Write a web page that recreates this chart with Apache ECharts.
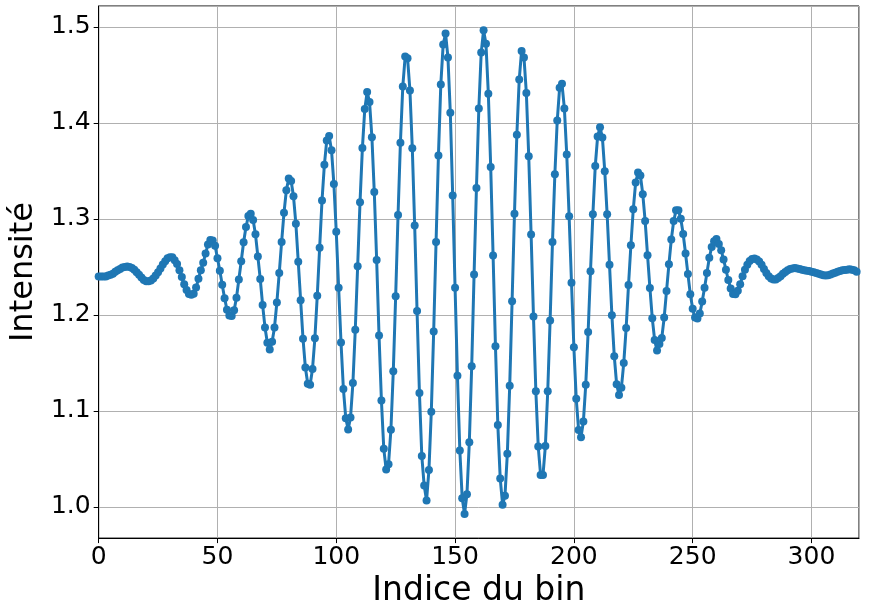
<!DOCTYPE html>
<html>
<head>
<meta charset="utf-8">
<script src="https://cdn.jsdelivr.net/npm/echarts@6/dist/echarts.min.js"></script>
<style>
html,body{margin:0;padding:0;background:#fff;}
#chart{width:874px;height:613px;}
</style>
</head>
<body>
<div id="chart"></div>
<script>
// Intensity per bin (bins 0..319)
const intensite = [
1.240,1.240,1.240,1.240,1.241,1.242,1.243,1.245,1.2465,1.248,
1.2495,1.250,1.2505,1.250,1.249,1.247,1.2445,1.242,1.239,1.2365,
1.235,1.235,1.236,1.238,1.241,1.2445,1.2485,1.2525,1.256,1.259,
1.260,1.260,1.257,1.253,1.2465,1.2395,1.232,1.226,1.2218,1.221,
1.222,1.2286,1.2377,1.2465,1.2545,1.264,1.2735,1.278,1.2775,1.272,
1.259,1.246,1.2315,1.2175,1.2055,1.1995,1.199,1.205,1.218,1.237,
1.256,1.2757,1.2916,1.303,1.3054,1.299,1.284,1.261,1.2375,1.2105,
1.187,1.171,1.164,1.172,1.187,1.213,1.2436,1.276,1.3064,1.330,
1.3422,1.3395,1.3236,1.295,1.2555,1.2154,1.1753,1.1452,1.1284,1.1274,
1.1438,1.1757,1.2199,1.2699,1.3192,1.3565,1.3818,1.3863,1.3716,1.3363,
1.2866,1.2284,1.1712,1.1229,1.0925,1.0808,1.0932,1.1291,1.1846,1.2507,
1.3175,1.374,1.4144,1.4322,1.4219,1.385,1.328,1.2573,1.1785,1.111,
1.0606,1.039,1.0445,1.0805,1.1414,1.2195,1.3041,1.3795,1.438,1.4692,
1.4675,1.4339,1.3736,1.2932,1.2041,1.1188,1.0531,1.0223,1.0068,1.0384,
1.0993,1.1829,1.276,1.3661,1.4401,1.4818,1.4932,1.4682,1.4106,1.3243,
1.2284,1.1366,1.0589,1.0092,0.9928,1.0134,1.0675,1.1466,1.2421,1.3322,
1.4151,1.4733,1.4966,1.4825,1.4305,1.3541,1.262,1.1675,1.0853,1.0298,
1.0024,1.0116,1.0555,1.1264,1.2144,1.3055,1.3877,1.4452,1.475,1.4682,
1.4312,1.3654,1.2839,1.1983,1.1205,1.063,1.0332,1.0332,1.0634,1.1205,
1.1942,1.276,1.3466,1.4025,1.4366,1.4408,1.4151,1.3671,1.3027,1.2336,
1.1664,1.1127,1.0801,1.0726,1.089,1.1274,1.1822,1.2455,1.3048,1.3551,
1.386,1.3955,1.3849,1.3498,1.3048,1.2522,1.1998,1.1571,1.1278,1.1166,
1.1241,1.15,1.1863,1.2313,1.2726,1.3101,1.338,1.3485,1.3453,1.3258,
1.2978,1.2623,1.2281,1.1965,1.1738,1.1629,1.1697,1.176,1.1973,1.225,
1.2528,1.2785,1.2978,1.309,1.309,1.3002,1.2843,1.264,1.2426,1.2217,
1.2064,1.1973,1.1963,1.2014,1.2139,1.2284,1.2437,1.2596,1.2707,1.2768,
1.2792,1.274,1.2673,1.2579,1.2471,1.2364,1.2276,1.2219,1.2216,1.2253,
1.232,1.2404,1.2471,1.2522,1.2562,1.2582,1.2589,1.2579,1.2556,1.2522,
1.2478,1.2438,1.2404,1.238,1.237,1.237,1.2384,1.2404,1.2428,1.2448,
1.2465,1.2478,1.2485,1.2488,1.2485,1.2478,1.2471,1.2465,1.2461,1.2458,
1.2451,1.2444,1.2438,1.2428,1.2421,1.2414,1.2411,1.2414,1.2421,1.2431,
1.2441,1.2451,1.2458,1.2465,1.2468,1.2471,1.2475,1.2471,1.2465,1.2451
];
const bins = intensite.map((v, i) => i);
const xTicks = [0, 50, 100, 150, 200, 250, 300];
const yTicks = [1.0, 1.1, 1.2, 1.3, 1.4, 1.5];
const xLabel = 'Indice du bin';
const yLabel = 'Intensité';

const font = 'DejaVu Sans';
const chart = echarts.init(document.getElementById('chart'), null, {renderer: 'canvas'});
chart.setOption({
  animation: false,
  backgroundColor: '#ffffff',
  grid: {left: 95, right: 15, top: 6, bottom: 59, show: true, borderColor: '#000', borderWidth: 1, backgroundColor: 'transparent'},
  xAxis: {
    type: 'value', min: 0, max: 320, interval: 50,
    name: xLabel, nameLocation: 'middle', nameGap: 30,
    nameTextStyle: {fontFamily: font, fontSize: 33, color: '#000'},
    axisLine: {show: true, lineStyle: {color: '#000', width: 1}},
    axisTick: {show: true, inside: false, length: 5, lineStyle: {color: '#000'}},
    axisLabel: {show: true, fontFamily: font, fontSize: 25, color: '#000', margin: 7, showMaxLabel: false,
      formatter: v => (xTicks.indexOf(v) >= 0 ? String(v) : '')},
    splitLine: {show: true, lineStyle: {color: '#b0b0b0', width: 1}}
  },
  yAxis: {
    type: 'value', min: 0.9676, max: 1.5218, splitNumber: 5,
    name: yLabel, nameLocation: 'middle', nameGap: 43,
    nameTextStyle: {fontFamily: font, fontSize: 32, color: '#000'},
    axisLine: {show: true, lineStyle: {color: '#000', width: 1}},
    axisTick: {show: true, inside: false, length: 5, lineStyle: {color: '#000'}},
    axisLabel: {show: true, fontFamily: font, fontSize: 25, color: '#000', margin: 8,
      showMinLabel: false, showMaxLabel: false,
      formatter: v => {
        const r = Math.round(v * 10) / 10;
        return (Math.abs(v - r) < 1e-6 && yTicks.indexOf(r) >= 0) ? r.toFixed(1) : '';
      }},
    splitLine: {show: true, lineStyle: {color: '#b0b0b0', width: 1}}
  },
  series: [{
    type: 'line',
    data: bins.map((b, i) => [b, intensite[i]]),
    color: '#1f77b4',
    lineStyle: {width: 3, color: '#1f77b4'},
    symbol: 'circle', symbolSize: 8, showAllSymbol: true,
    itemStyle: {color: '#1f77b4'},
    clip: true
  }]
});
</script>
</body>
</html>
